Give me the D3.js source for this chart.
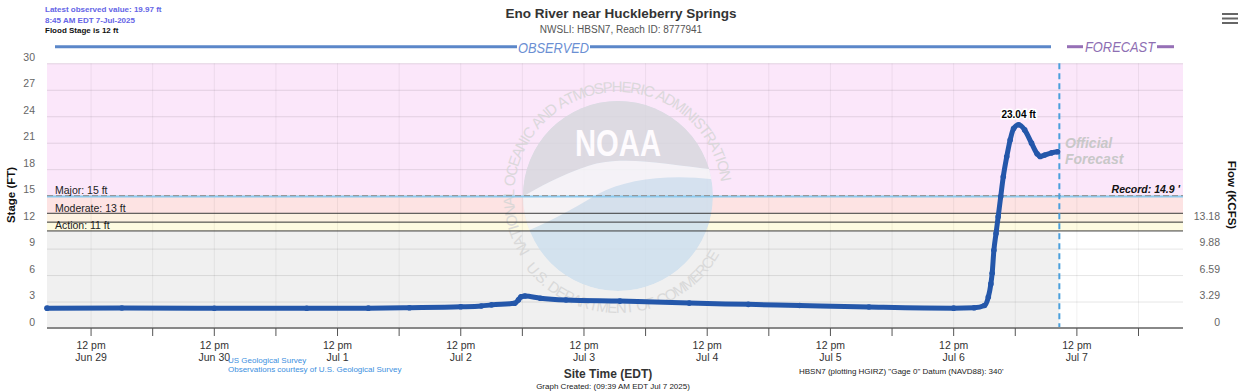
<!DOCTYPE html>
<html><head><meta charset="utf-8">
<script src="https://cdn.jsdelivr.net/npm/d3@7"></script>
<style>
body{margin:0;background:#fff}
svg{display:block;font-family:"Liberation Sans",Arial,Helvetica,sans-serif}
</style>
</head><body>
<svg id="chart" width="1260" height="391"></svg>
<script>
// ---------------- data ----------------
const obsTimes = [
"2025-06-29T03:25","2025-06-29T18:00","2025-06-30T12:00","2025-07-01T06:00","2025-07-01T18:00",
"2025-07-02T02:00","2025-07-02T12:00","2025-07-02T16:00","2025-07-02T18:00","2025-07-02T22:30",
"2025-07-02T23:15","2025-07-02T23:45","2025-07-03T00:30","2025-07-03T03:30","2025-07-03T08:30",
"2025-07-03T19:00","2025-07-04T08:30","2025-07-04T20:00","2025-07-05T06:00","2025-07-05T19:30",
"2025-07-06T12:00","2025-07-06T16:00","2025-07-06T18:00","2025-07-06T18:45","2025-07-06T19:15",
"2025-07-06T19:30","2025-07-06T19:50","2025-07-06T20:15","2025-07-06T20:40","2025-07-06T21:10",
"2025-07-06T21:40","2025-07-06T22:20","2025-07-06T23:00","2025-07-06T23:40","2025-07-07T00:40",
"2025-07-07T01:50","2025-07-07T03:10","2025-07-07T04:15","2025-07-07T04:50","2025-07-07T05:45",
"2025-07-07T07:05","2025-07-07T08:15"];
const obsStage = [
2.25,2.26,2.24,2.24,2.25,
2.30,2.40,2.50,2.62,2.80,
3.20,3.55,3.62,3.38,3.18,
3.05,2.82,2.68,2.55,2.38,
2.25,2.30,2.55,3.50,5.00,
6.20,8.80,10.70,12.60,14.90,
17.15,19.40,21.30,22.60,23.04,
22.45,20.95,19.75,19.45,19.60,
19.85,19.97];
const timeDomain = ["2025-06-29T03:25","2025-07-08T08:40"];
const forecastStart = "2025-07-07T08:35";
const dayLabels = ["Jun 29","Jun 30","Jul 1","Jul 2","Jul 3","Jul 4","Jul 5","Jul 6","Jul 7"];
const dayNoons = ["2025-06-29T12:00","2025-06-30T12:00","2025-07-01T12:00","2025-07-02T12:00","2025-07-03T12:00","2025-07-04T12:00","2025-07-05T12:00","2025-07-06T12:00","2025-07-07T12:00"];
const stageTicks = [0,3,6,9,12,15,18,21,24,27,30];
const flowTickStage = [0,3,6,9,12];
const flowTickLabels = ["0","3.29","6.59","9.88","13.18"];
const floodNames = ["Action","Moderate","Major"];
const floodValues = [11,13,15];
const floodStage = 12;
const recordStage = 14.9;
const peakStage = 23.04;

// ---------------- setup ----------------
const parse = d3.utcParse("%Y-%m-%dT%H:%M");
const svg = d3.select("#chart");
const L = 47, R = 1183, T = 63.3, B = 328;
const x = d3.scaleUtc().domain(timeDomain.map(parse)).range([L, R]);
const y = d3.scaleLinear().domain([0, 30]).range([B, T]);
const obs = obsTimes.map((t,i)=>({t:parse(t), v:obsStage[i]}));
const fx = x(parse(forecastStart));

// bands
const bands = [
  {lo:15, hi:30, c:"#fbe7fa", x1:R},
  {lo:13, hi:15, c:"#fde3e3", x1:R},
  {lo:12, hi:13, c:"#fdf2e2", x1:R},
  {lo:11, hi:12, c:"#fefbe1", x1:R},
  {lo:0, hi:11, c:"#f0f0f0", x1:fx}
];
svg.append("g").selectAll("rect").data(bands).join("rect")
  .attr("x", L).attr("width", d=>d.x1-L)
  .attr("y", d=>y(d.hi)).attr("height", d=>y(d.lo)-y(d.hi))
  .attr("fill", d=>d.c);

// gridlines
const tickTimes = d3.utcHour.every(12).range(x.domain()[0], x.domain()[1]);
svg.append("g").selectAll("line").data(tickTimes).join("line")
  .attr("x1", d=>x(d)).attr("x2", d=>x(d)).attr("y1", T).attr("y2", B)
  .attr("stroke","rgba(0,0,0,0.06)");
svg.append("g").selectAll("line").data(stageTicks.filter(v=>v>0)).join("line")
  .attr("x1", L).attr("x2", R).attr("y1", d=>y(d)+0.5).attr("y2", d=>y(d)+0.5)
  .attr("stroke","rgba(0,0,0,0.1)");

// ---------------- watermark ----------------
const cx = 618, cy = 196, ri = 95;
const defs = svg.append("defs");
defs.append("clipPath").attr("id","wmclip").append("circle").attr("cx",cx).attr("cy",cy).attr("r",ri);
const wm = svg.append("g").attr("opacity",0.85);
const inner = wm.append("g").attr("clip-path","url(#wmclip)");
inner.append("circle").attr("cx",cx).attr("cy",cy).attr("r",ri).attr("fill","#cfe0ee");
inner.append("path").attr("fill","#d8d8de")
  .attr("d",`M${cx-100},${cy-110} H${cx+100} V${cy-26} C${cx+55},${cy-30} ${cx+5},${cy-42} ${cx-30},${cy-30} C${cx-60},${cy-20} ${cx-85},${cy-6} ${cx-100},${cy+4} Z`);
inner.append("path").attr("fill","#f4f5f7")
  .attr("d",`M${cx-100},${cy+4} C${cx-85},${cy-6} ${cx-60},${cy-20} ${cx-30},${cy-30} C${cx+5},${cy-42} ${cx+55},${cy-30} ${cx+100},${cy-26} V${cy-16} C${cx+55},${cy-22} ${cx+10},${cy-18} ${cx-20},${cy-2} C${cx-50},${cy+16} ${cx-80},${cy+32} ${cx-100},${cy+38} Z`);
wm.append("text").attr("x",cx).attr("y",cy-40).attr("text-anchor","middle")
  .attr("font-size",36).attr("font-weight","bold").attr("fill","#fff")
  .attr("textLength",86).attr("lengthAdjust","spacingAndGlyphs").text("NOAA");

// ring text, one glyph at a time along arcs
function ringText(str, r, a0, a1, outward){
  const fs = 15;
  const meas = wm.append("text").attr("font-size",fs).attr("visibility","hidden");
  const ws = Array.from(str).map(ch=>{ meas.text(ch===" "?"\u00a0":ch); return meas.node().getComputedTextLength(); });
  meas.remove();
  const total = d3.sum(ws);
  const arcLen = r*Math.abs(a1-a0)*Math.PI/180;
  const s = arcLen/total;
  let acc = 0;
  Array.from(str).forEach((ch,i)=>{
    const mid = (acc + ws[i]/2)*s; acc += ws[i];
    if (ch===" ") return;
    const frac = mid/arcLen;
    const a = a0 + (a1-a0)*frac;
    const rad = a*Math.PI/180;
    const px = cx + r*Math.cos(rad), py = cy + r*Math.sin(rad);
    const rot = outward ? a+90 : a-90;
    wm.append("text").attr("font-size",fs).attr("fill","#d6d6d6").attr("text-anchor","middle")
      .attr("transform",`translate(${px.toFixed(2)},${py.toFixed(2)}) rotate(${rot.toFixed(2)})`).text(ch);
  });
}
ringText("NATIONAL OCEANIC AND ATMOSPHERIC ADMINISTRATION", 104, 148, 352, true);
ringText("U.S. DEPARTMENT OF COMMERCE", 117, 142, 30, false);

// ---------------- flood lines ----------------
const fl = svg.append("g");
[floodValues[0], floodStage, floodValues[1]].forEach(v=>{
  fl.append("line").attr("x1",L).attr("x2",R).attr("y1",y(v)).attr("y2",y(v))
    .attr("stroke","#3a3a3a").attr("stroke-width",1);
});
fl.append("line").attr("x1",L).attr("x2",R).attr("y1",y(recordStage)).attr("y2",y(recordStage))
  .attr("stroke","#8ccbf0").attr("stroke-width",2);
fl.append("line").attr("x1",L).attr("x2",R).attr("y1",y(floodValues[2])).attr("y2",y(floodValues[2]))
  .attr("stroke","#909090").attr("stroke-width",1).attr("stroke-dasharray","6,3");
floodNames.forEach((n,i)=>{
  fl.append("text").attr("x",55).attr("y",y(floodValues[i])-1.5)
    .attr("font-size",10.5).attr("fill","#222").text(`${n}: ${floodValues[i]} ft`);
});
fl.append("text").attr("x",1180).attr("y",y(recordStage)-4).attr("text-anchor","end")
  .attr("font-size",10.5).attr("font-weight","bold").attr("font-style","italic").attr("fill","#111")
  .text(`Record: ${recordStage} '`);

// forecast divider
svg.append("line").attr("x1",fx).attr("x2",fx).attr("y1",T).attr("y2",B)
  .attr("stroke","#4aa0dc").attr("stroke-width",2).attr("stroke-dasharray","6,4");

svg.append("text").attr("x",1065).attr("y",148).attr("font-size",14).attr("font-weight","bold")
  .attr("font-style","italic").attr("fill","#c8c8c8").text("Official");
svg.append("text").attr("x",1065).attr("y",164).attr("font-size",14).attr("font-weight","bold")
  .attr("font-style","italic").attr("fill","#c8c8c8").text("Forecast");

// ---------------- axes ----------------
svg.append("line").attr("x1",L).attr("x2",R).attr("y1",B).attr("y2",B).attr("stroke","#888").attr("stroke-width",2);
svg.append("g").selectAll("line").data(tickTimes).join("line")
  .attr("x1",d=>x(d)).attr("x2",d=>x(d)).attr("y1",B).attr("y2",B+8).attr("stroke","#555");
const xl = svg.append("g").attr("font-size",10.5).attr("fill","#333").attr("text-anchor","middle");
dayNoons.forEach((t,i)=>{
  const px = x(parse(t));
  xl.append("text").attr("x",px).attr("y",348.5).text("12 pm");
  xl.append("text").attr("x",px).attr("y",361).text(dayLabels[i]);
});
svg.append("g").attr("font-size",10.5).attr("fill","#666").attr("text-anchor","end")
  .selectAll("text").data(stageTicks).join("text")
  .attr("x",35).attr("y",d=>y(d)-2.5).text(d=>d);
svg.append("g").attr("font-size",10.5).attr("fill","#666").attr("text-anchor","end")
  .selectAll("text").data(flowTickStage).join("text")
  .attr("x",1220).attr("y",d=>y(d)-2.5).text((d,i)=>flowTickLabels[i]);
svg.append("text").attr("transform",`translate(15,195) rotate(-90)`).attr("text-anchor","middle")
  .attr("font-size",11.5).attr("font-weight","bold").attr("fill","#111").text("Stage (FT)");
svg.append("text").attr("transform",`translate(1228,195) rotate(90)`).attr("text-anchor","middle")
  .attr("font-size",11.5).attr("font-weight","bold").attr("fill","#111").text("Flow (KCFS)");

// ---------------- series ----------------
const line = d3.line().x(d=>x(d.t)).y(d=>y(d.v)).curve(d3.curveMonotoneX);
svg.append("path").datum(obs).attr("d",line).attr("fill","none")
  .attr("stroke","#2457aa").attr("stroke-width",5).attr("stroke-linejoin","round").attr("stroke-linecap","round");
svg.append("g").selectAll("circle").data(obs).join("circle")
  .attr("cx",d=>x(d.t)).attr("cy",d=>y(d.v)).attr("r",2.8).attr("fill","#2457aa");
const pk = obs.find(d=>d.v===peakStage);
svg.append("text").attr("x",x(pk.t)).attr("y",y(pk.v)-7).attr("text-anchor","middle")
  .attr("font-size",10).attr("font-weight","bold").attr("fill","#000")
  .attr("stroke","#fff").attr("stroke-width",3).attr("paint-order","stroke").text(`${peakStage} ft`);

// ---------------- header ----------------
svg.append("text").attr("x",621).attr("y",17.5).attr("text-anchor","middle")
  .attr("font-size",13.5).attr("font-weight","bold").attr("fill","#333").text("Eno River near Huckleberry Springs");
svg.append("text").attr("x",621).attr("y",33).attr("text-anchor","middle")
  .attr("font-size",10).attr("fill","#555").text("NWSLI: HBSN7, Reach ID: 8777941");
svg.append("text").attr("x",45).attr("y",12).attr("font-size",8).attr("font-weight","bold").attr("fill","#6464e6").text("Latest observed value: 19.97 ft");
svg.append("text").attr("x",45).attr("y",22.5).attr("font-size",8).attr("font-weight","bold").attr("fill","#6464e6").text("8:45 AM EDT 7-Jul-2025");
svg.append("text").attr("x",45).attr("y",33).attr("font-size",8).attr("font-weight","bold").attr("fill","#111").text("Flood Stage is 12 ft");

const hdr = svg.append("g");
hdr.append("line").attr("x1",55).attr("x2",517).attr("y1",46.7).attr("y2",46.7).attr("stroke","#5b87c9").attr("stroke-width",3);
hdr.append("line").attr("x1",590).attr("x2",1051).attr("y1",46.7).attr("y2",46.7).attr("stroke","#5b87c9").attr("stroke-width",3);
hdr.append("text").attr("x",553.5).attr("y",52.5).attr("text-anchor","middle").attr("font-size",14.5)
  .attr("font-style","italic").attr("fill","#6b8fd3").attr("textLength",71).attr("lengthAdjust","spacingAndGlyphs").text("OBSERVED");
hdr.append("line").attr("x1",1067).attr("x2",1083).attr("y1",46.7).attr("y2",46.7).attr("stroke","#9670b6").attr("stroke-width",3);
hdr.append("line").attr("x1",1157).attr("x2",1174).attr("y1",46.7).attr("y2",46.7).attr("stroke","#9670b6").attr("stroke-width",3);
hdr.append("text").attr("x",1120).attr("y",52).attr("text-anchor","middle").attr("font-size",14.5)
  .attr("font-style","italic").attr("fill","#8e6fb3").attr("textLength",70).attr("lengthAdjust","spacingAndGlyphs").text("FORECAST");

// menu icon
[14,18.5,23].forEach(yy=>svg.append("line").attr("x1",1222).attr("x2",1238).attr("y1",yy).attr("y2",yy).attr("stroke","#666").attr("stroke-width",2));

// ---------------- footer ----------------
svg.append("text").attr("x",608).attr("y",378).attr("text-anchor","middle").attr("font-size",12)
  .attr("font-weight","bold").attr("fill","#333").text("Site Time (EDT)");
svg.append("text").attr("x",613).attr("y",389).attr("text-anchor","middle").attr("font-size",8)
  .attr("fill","#222").text("Graph Created: (09:39 AM EDT Jul 7 2025)");
svg.append("text").attr("x",228).attr("y",363).attr("font-size",8).attr("fill","#3d8fe0").text("US Geological Survey");
svg.append("text").attr("x",228).attr("y",372).attr("font-size",8).attr("fill","#3d8fe0").text("Observations courtesy of U.S. Geological Survey");
svg.append("text").attr("x",799).attr("y",374).attr("font-size",8).attr("fill","#222").text("HBSN7 (plotting HGIRZ) \"Gage 0\" Datum (NAVD88): 340'");
</script>
</body></html>
